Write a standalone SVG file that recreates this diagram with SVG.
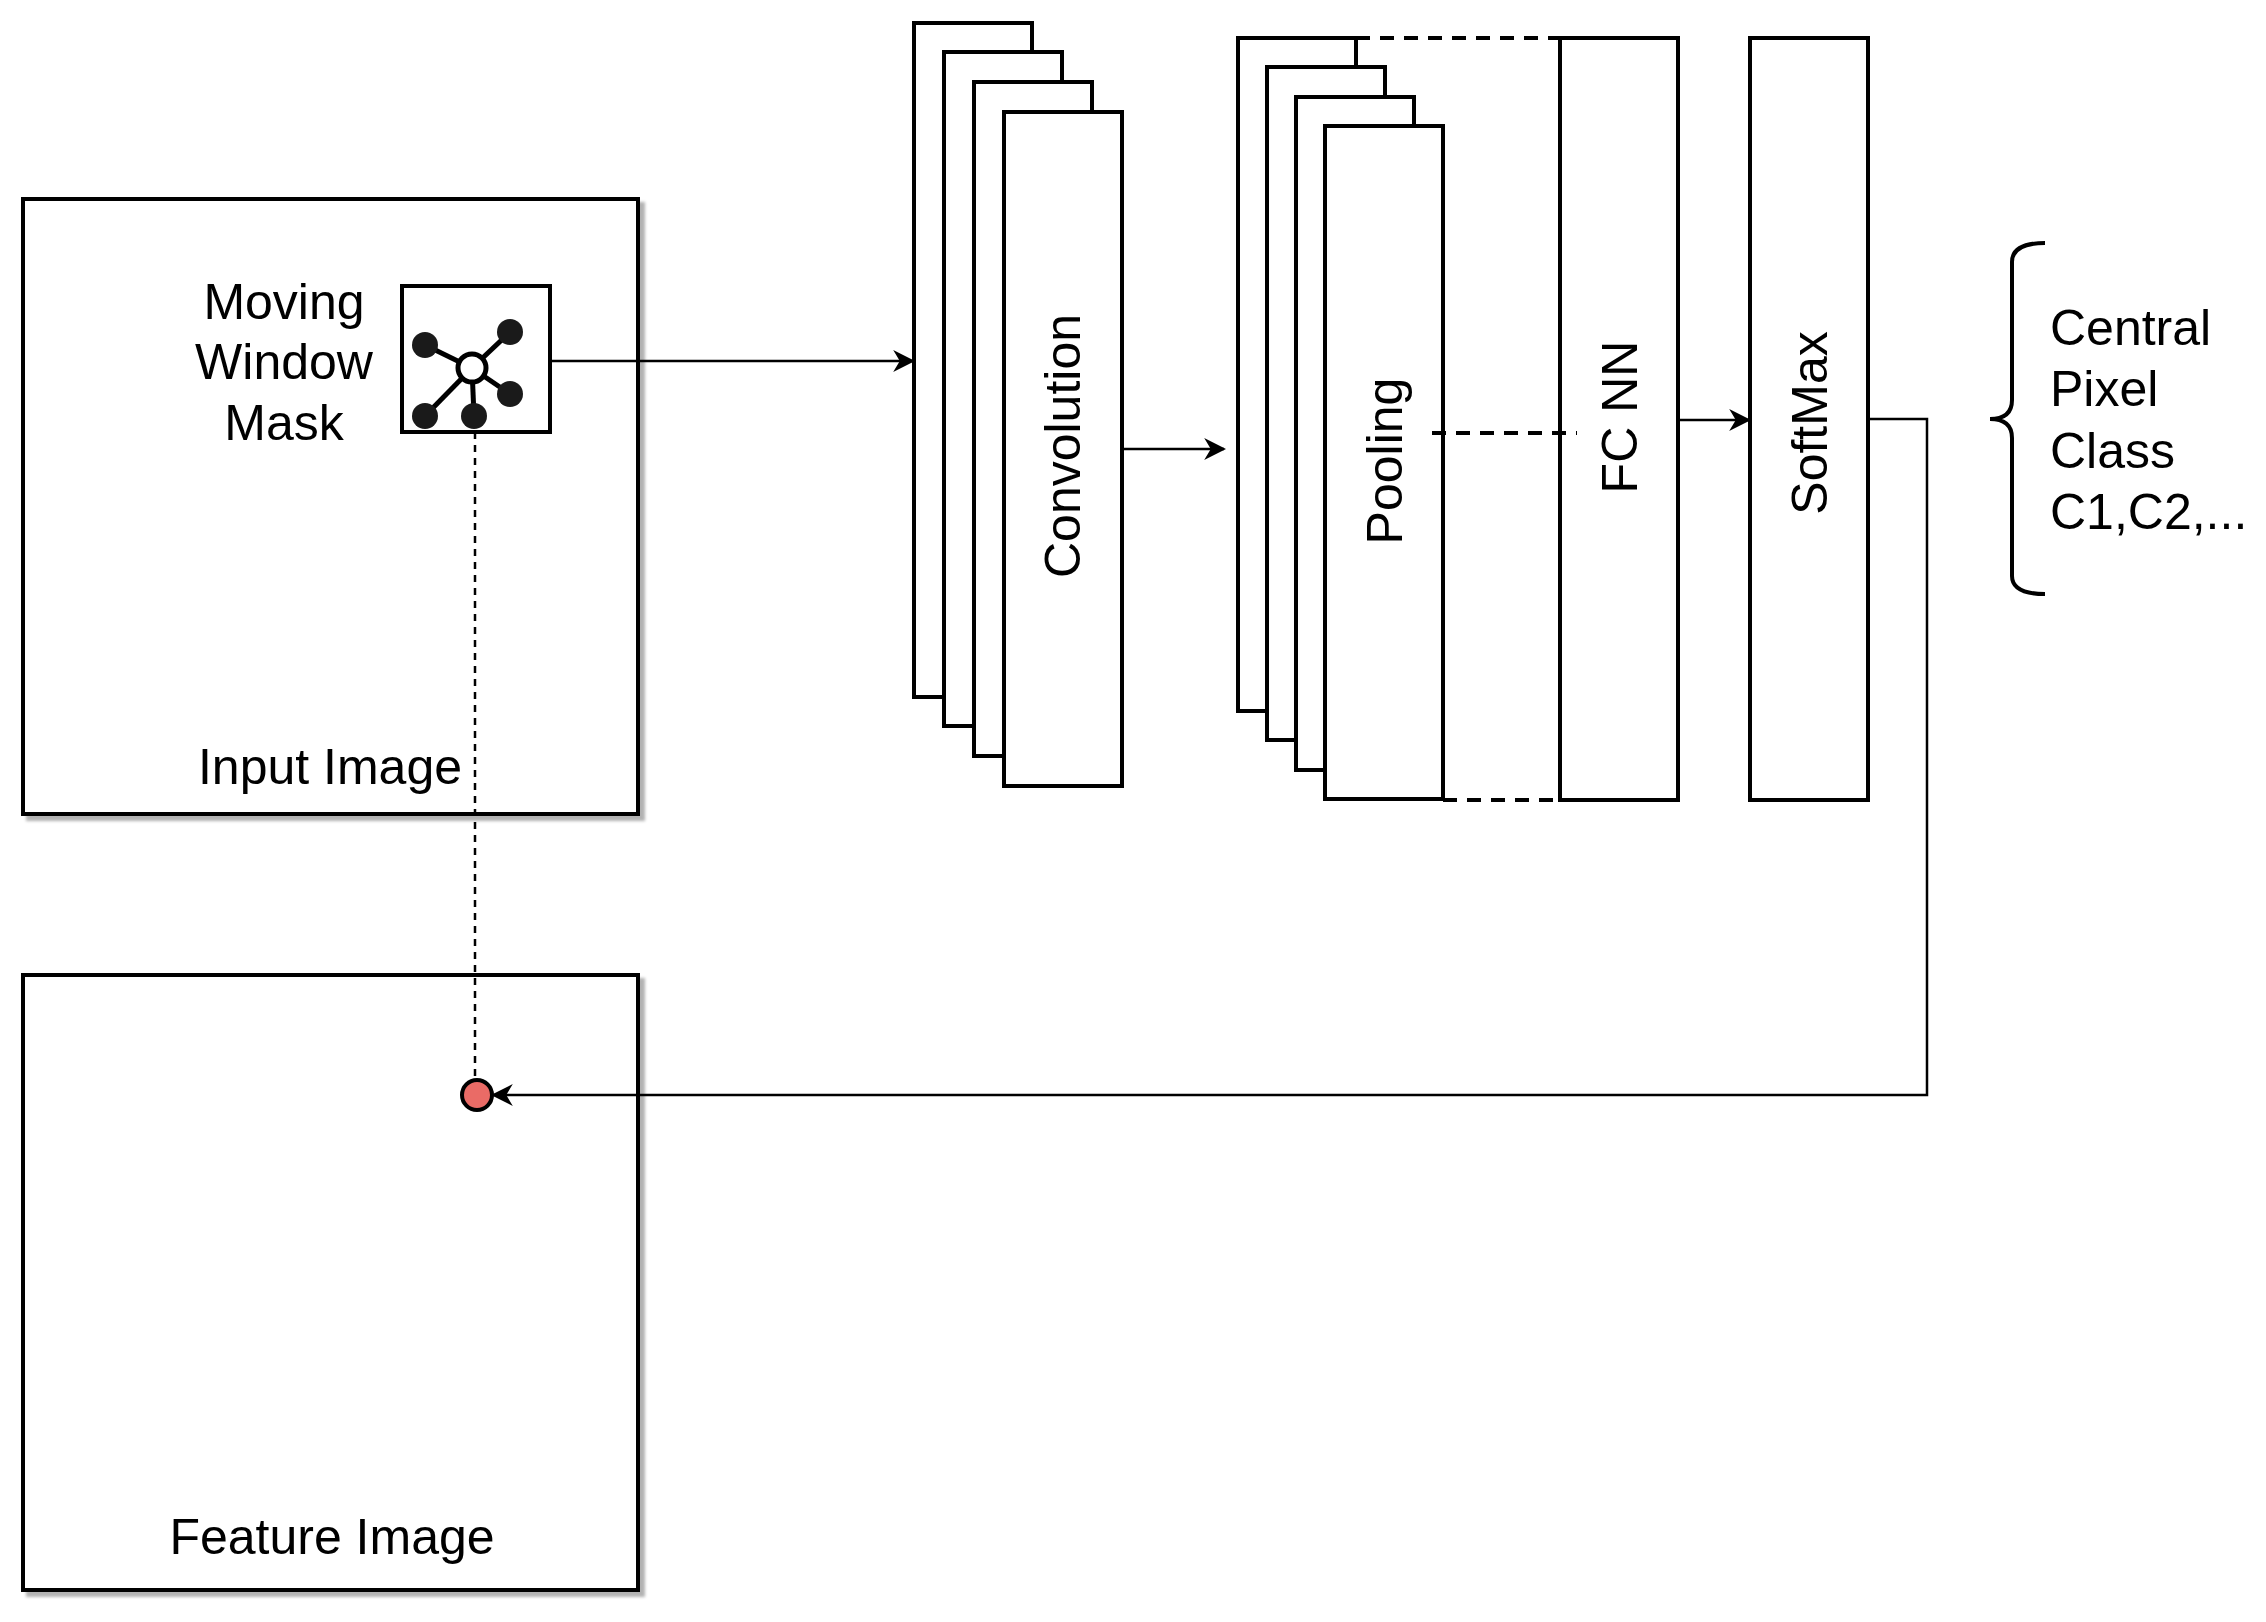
<svg xmlns="http://www.w3.org/2000/svg" width="2266" height="1622" viewBox="0 0 2266 1622">
<style>
.b{fill:#fff;stroke:#000;stroke-width:4}
.t{font-family:"Liberation Sans",Arial,sans-serif;font-size:50px;fill:#000}
.c{fill:none;stroke:#000;stroke-width:2.5}
.d{fill:none;stroke:#000;stroke-width:4;stroke-dasharray:14 10}
</style>
<defs>
<filter id="sh" x="-5%" y="-5%" width="110%" height="110%"><feDropShadow dx="5" dy="5" stdDeviation="1.5" flood-color="#000" flood-opacity="0.3"/></filter>
<marker id="a" viewBox="0 0 10 10" refX="9" refY="5" markerWidth="22" markerHeight="22" markerUnits="userSpaceOnUse" orient="auto"><path d="M0,0 L10,5 L0,10 L3,5 z" fill="#000"/></marker>
</defs>
<rect width="2266" height="1622" fill="#fff"/>
<g id="input"><rect class="b" x="23" y="199" width="615" height="615" filter="url(#sh)"/><text class="t" x="330" y="784" text-anchor="middle">Input Image</text></g>
<g id="feature"><rect class="b" x="23" y="975" width="615" height="615" filter="url(#sh)"/><text class="t" x="332" y="1554" text-anchor="middle">Feature Image</text></g>
<g id="mask">
<text class="t" text-anchor="middle" x="284"><tspan x="284" y="319">Moving</tspan><tspan x="284" y="379">Window</tspan><tspan x="284" y="440">Mask</tspan></text>
<rect class="b" x="402" y="286" width="148" height="146"/>
<g stroke="#000" stroke-width="5"><line x1="472" y1="368" x2="425" y2="345"/><line x1="472" y1="368" x2="510" y2="332"/><line x1="472" y1="368" x2="510" y2="394"/><line x1="472" y1="368" x2="425" y2="416"/><line x1="472" y1="368" x2="474" y2="416"/></g>
<g fill="#1a1a1a"><circle cx="425" cy="345" r="13"/><circle cx="510" cy="332" r="13"/><circle cx="510" cy="394" r="13"/><circle cx="425" cy="416" r="13"/><circle cx="474" cy="416" r="13"/></g>
<circle cx="472" cy="368" r="14" fill="#fff" stroke="#000" stroke-width="5"/>
</g>
<g id="conv">
<rect class="b" x="914" y="23" width="118" height="674"/><rect class="b" x="944" y="52" width="118" height="674"/><rect class="b" x="974" y="82" width="118" height="674"/><rect class="b" x="1004" y="112" width="118" height="674"/>
<text class="t" transform="translate(1080,446) rotate(-90)" text-anchor="middle">Convolution</text>
</g>
<g id="pool">
<rect class="b" x="1238" y="38" width="118" height="673"/><rect class="b" x="1267" y="67" width="118" height="673"/><rect class="b" x="1296" y="97" width="118" height="673"/><rect class="b" x="1325" y="126" width="118" height="673"/>
<text class="t" transform="translate(1402,461) rotate(-90)" text-anchor="middle">Pooling</text>
</g>
<g id="fcnn"><rect class="b" x="1560" y="38" width="118" height="762"/><text class="t" transform="translate(1637,417) rotate(-90)" text-anchor="middle">FC NN</text></g>
<g id="softmax"><rect class="b" x="1750" y="38" width="118" height="762"/><text class="t" transform="translate(1827,423) rotate(-90)" text-anchor="middle">SoftMax</text></g>
<g id="output">
<path d="M2045,243 Q2012,243 2012,262 L2012,400 Q2012,419 1990,419 Q2012,419 2012,438 L2012,576 Q2012,594 2045,594" fill="none" stroke="#000" stroke-width="4"/>
<text class="t"><tspan x="2050" y="345">Central</tspan><tspan x="2050" y="406">Pixel</tspan><tspan x="2050" y="468">Class</tspan><tspan x="2050" y="529">C1,C2,...</tspan></text>
</g>
<g id="pixel"><circle cx="477" cy="1095" r="15" fill="#ea6b66" stroke="#000" stroke-width="4"/></g>
<g id="connectors">
<line class="c" x1="550" y1="361" x2="913" y2="361" marker-end="url(#a)"/>
<line class="c" x1="1123" y1="449" x2="1224" y2="449" marker-end="url(#a)"/>
<line class="c" x1="1678" y1="420" x2="1749" y2="420" marker-end="url(#a)"/>
<polyline class="c" points="1868,419 1927,419 1927,1095 493,1095" marker-end="url(#a)"/>
<line x1="475" y1="432" x2="475" y2="1080" stroke="#000" stroke-width="2.5" stroke-dasharray="7 6"/>
<line class="d" x1="1356" y1="38" x2="1560" y2="38"/>
<line class="d" x1="1443" y1="800" x2="1560" y2="800"/>
<line class="d" x1="1432" y1="433" x2="1577" y2="433"/>
</g>
</svg>
